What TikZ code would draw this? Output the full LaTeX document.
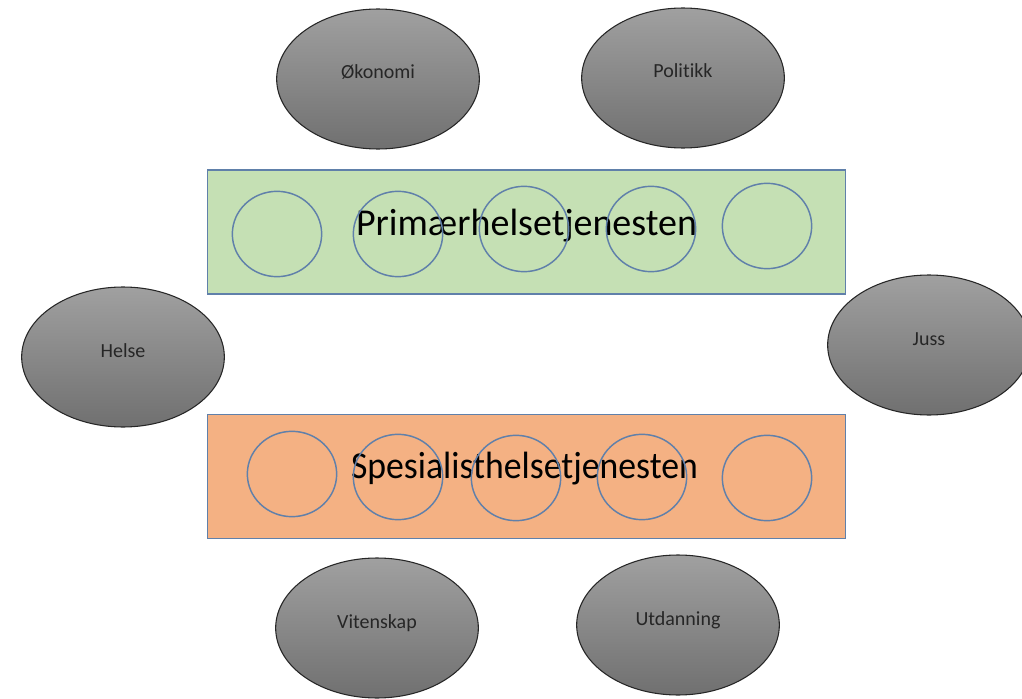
\documentclass[tikz,border=0pt]{standalone}
\usepackage{fontspec}
\setmainfont[Ligatures=NoCommon]{Carlito}
\usetikzlibrary{shapes.geometric}

\definecolor{kantblaa}{RGB}{96,128,170}
\definecolor{primgronn}{RGB}{197,224,180}
\definecolor{spesoransje}{RGB}{244,177,131}
\definecolor{ovalopp}{RGB}{160,160,160}
\definecolor{ovalned}{RGB}{112,112,112}

\tikzset{
  felt/.style={ellipse, draw=black!85, line width=0.8pt, top color=ovalopp, bottom color=ovalned,
    minimum width=152pt, minimum height=105pt, inner sep=0pt,
    text height=1.2ex, text depth=1.2ex, text=black!85, font=\fontsize{15}{18}\selectfont},
  tjeneste/.style={rectangle, draw=kantblaa, line width=0.9pt, minimum width=478pt, minimum height=93pt, inner sep=0pt},
  rund/.style={ellipse, draw=kantblaa, line width=1.1pt, minimum width=67pt, minimum height=64pt, inner sep=0pt},
  tittel/.style={anchor=base, font=\fontsize{28.5}{32}\selectfont}
}

\begin{document}
\begin{tikzpicture}[x=0.75pt, y=-0.75pt]
  \useasboundingbox (0,0) rectangle (1022,699);

  % fagfelt rundt
  \node[felt] (okonomi) at (378,79) {Økonomi};
  \node[felt] (politikk) at (683,78) {Politikk};
  \node[felt] (helse) at (123,357) {Helse};
  \node[felt] (juss) at (929,345) {Juss};
  \node[felt] (vitenskap) at (377,628) {Vitenskap};
  \node[felt] (utdanning) at (678,625) {Utdanning};

  % primaerhelsetjenesten
  \node[tjeneste, fill=primgronn] (primaer) at (526.5,232) {};
  \node[tittel] (primaer-tekst) at (526.5,235) {Primærhelsetjenesten};
  \foreach \cx/\cy [count=\i] in {277/234, 398/234, 524/229, 651/229, 767/226}
    \node[rund] (p\i) at (\cx,\cy) {};

  % spesialisthelsetjenesten
  \node[tjeneste, fill=spesoransje] (spesialist) at (526.5,476.5) {};
  \node[tittel, xscale=0.94, transform shape] (spesialist-tekst) at (524.5,478) {Spesialisthelsetjenesten};
  \foreach \cx/\cy [count=\i] in {292/474, 398/477, 516/478, 642/477, 767/478}
    \node[rund] (s\i) at (\cx,\cy) {};
\end{tikzpicture}
\end{document}
